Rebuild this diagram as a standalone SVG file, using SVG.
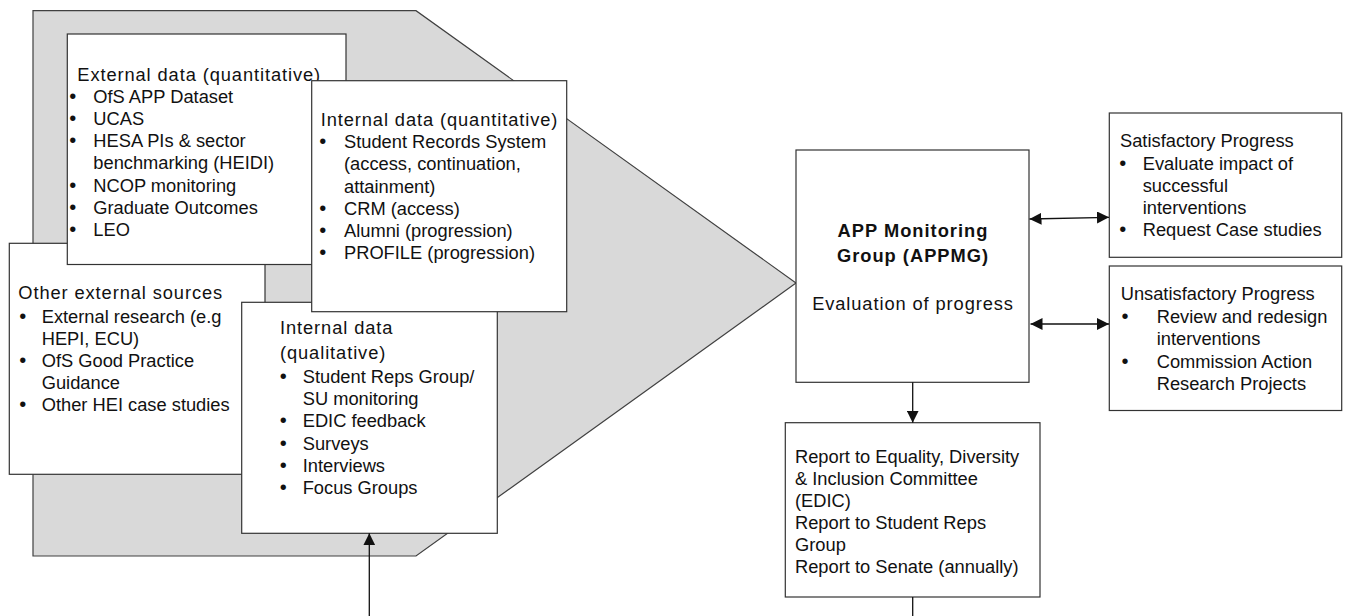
<svg xmlns="http://www.w3.org/2000/svg" width="1348" height="616" viewBox="0 0 1348 616">
<defs>
<style>
text{font-family:"Liberation Sans",Arial,sans-serif;font-size:18.3px;fill:#111}
.h{letter-spacing:0.9px}
.b{font-weight:bold;letter-spacing:1px}
.m{text-anchor:middle}
.d{font-size:20px}
.box{fill:#fff;stroke:#333;stroke-width:1.2}
.ln{stroke:#111;stroke-width:1.3;fill:none}
</style>
<marker id="ah" viewBox="0 0 12 12" refX="12" refY="6" markerWidth="12" markerHeight="12" markerUnits="userSpaceOnUse" orient="auto-start-reverse">
<path d="M0,0 L12,6 L0,12 Z" fill="#111"/>
</marker>
</defs>
<g id="funnel">
<polygon points="33,10.7 416,10.7 796,283 416,556 33,556" fill="#d9d9d9" stroke="#404040" stroke-width="1.2"/>
</g>
<g id="other-external">
<rect class="box" x="9.3" y="243.3" width="255.7" height="231"/>
<text class="h" x="18.3" y="299">Other external sources</text>
<text class="m d" x="22.7" y="322.5">•</text><text x="41.7" y="322.5">External research (e.g</text>
<text x="41.7" y="344.5">HEPI, ECU)</text>
<text class="m d" x="22.7" y="366.5">•</text><text x="41.7" y="366.5">OfS Good Practice</text>
<text x="41.7" y="388.5">Guidance</text>
<text class="m d" x="22.7" y="410.5">•</text><text x="41.7" y="410.5">Other HEI case studies</text>
</g>
<g id="external-quant">
<rect class="box" x="67.3" y="34" width="278.7" height="230.5"/>
<text class="h" x="77.3" y="80.5">External data (quantitative)</text>
<text class="m d" x="72.7" y="102.7">•</text><text x="93.3" y="102.7">OfS APP Dataset</text>
<text class="m d" x="72.7" y="124.9">•</text><text x="93.3" y="124.9">UCAS</text>
<text class="m d" x="72.7" y="147.1">•</text><text x="93.3" y="147.1">HESA PIs &amp; sector</text>
<text x="93.3" y="169.3">benchmarking (HEIDI)</text>
<text class="m d" x="72.7" y="191.5">•</text><text x="93.3" y="191.5">NCOP monitoring</text>
<text class="m d" x="72.7" y="213.7">•</text><text x="93.3" y="213.7">Graduate Outcomes</text>
<text class="m d" x="72.7" y="235.9">•</text><text x="93.3" y="235.9">LEO</text>
</g>
<g id="internal-qual">
<rect class="box" x="241.7" y="302.3" width="255.6" height="231"/>
<text class="h" x="280" y="334">Internal data</text>
<text class="h" x="280" y="359">(qualitative)</text>
<text class="m d" x="283.3" y="383">•</text><text x="302.7" y="383">Student Reps Group/</text>
<text x="302.7" y="405.2">SU monitoring</text>
<text class="m d" x="283.3" y="427.4">•</text><text x="302.7" y="427.4">EDIC feedback</text>
<text class="m d" x="283.3" y="449.6">•</text><text x="302.7" y="449.6">Surveys</text>
<text class="m d" x="283.3" y="471.8">•</text><text x="302.7" y="471.8">Interviews</text>
<text class="m d" x="283.3" y="494">•</text><text x="302.7" y="494">Focus Groups</text>
</g>
<g id="internal-quant">
<rect class="box" x="311.7" y="80.7" width="255" height="231"/>
<text class="h" x="320.7" y="126">Internal data (quantitative)</text>
<text class="m d" x="322.7" y="148.2">•</text><text x="344" y="148.2">Student Records System</text>
<text x="344" y="170.4">(access, continuation,</text>
<text x="344" y="192.6">attainment)</text>
<text class="m d" x="322.7" y="214.8">•</text><text x="344" y="214.8">CRM (access)</text>
<text class="m d" x="322.7" y="237">•</text><text x="344" y="237">Alumni (progression)</text>
<text class="m d" x="322.7" y="259.2">•</text><text x="344" y="259.2">PROFILE (progression)</text>
</g>
<g id="appmg">
<rect class="box" x="796" y="150" width="233" height="232.3"/>
<text class="b m" x="913" y="236.5">APP Monitoring</text>
<text class="b m" x="913" y="261.5">Group (APPMG)</text>
<text class="h m" x="913" y="310">Evaluation of progress</text>
</g>
<g id="satisfactory">
<rect class="box" x="1109.3" y="113" width="232.4" height="144.3"/>
<text x="1120" y="146.5">Satisfactory Progress</text>
<text class="m d" x="1122.7" y="169.5">•</text><text x="1142.7" y="169.5">Evaluate impact of</text>
<text x="1142.7" y="191.8">successful</text>
<text x="1142.7" y="214">interventions</text>
<text class="m d" x="1122.7" y="236.3">•</text><text x="1142.7" y="236.3">Request Case studies</text>
</g>
<g id="unsatisfactory">
<rect class="box" x="1109.3" y="266" width="232.4" height="144.5"/>
<text x="1120.7" y="300">Unsatisfactory Progress</text>
<text class="m d" x="1125" y="322.5">•</text><text x="1156.7" y="322.5">Review and redesign</text>
<text x="1156.7" y="344.5">interventions</text>
<text class="m d" x="1125" y="368">•</text><text x="1156.7" y="368">Commission Action</text>
<text x="1156.7" y="390">Research Projects</text>
</g>
<g id="report">
<rect class="box" x="785.3" y="422.7" width="254.7" height="174.3"/>
<text x="795" y="463">Report to Equality, Diversity</text>
<text x="795" y="485">&amp; Inclusion Committee</text>
<text x="795" y="506.5">(EDIC)</text>
<text x="795" y="529">Report to Student Reps</text>
<text x="795" y="550.5">Group</text>
<text x="795" y="573">Report to Senate (annually)</text>
</g>
<g id="connectors">
<line class="ln" x1="1029.5" y1="219" x2="1109" y2="217.3" marker-start="url(#ah)" marker-end="url(#ah)"/>
<line class="ln" x1="1030.5" y1="324" x2="1109" y2="324" marker-start="url(#ah)" marker-end="url(#ah)"/>
<line class="ln" x1="912.7" y1="382.3" x2="912.7" y2="422.7" marker-end="url(#ah)"/>
<line class="ln" x1="912.7" y1="597" x2="912.7" y2="616"/>
<line class="ln" x1="369.3" y1="616" x2="369.3" y2="533.3" marker-end="url(#ah)"/>
</g>
</svg>
